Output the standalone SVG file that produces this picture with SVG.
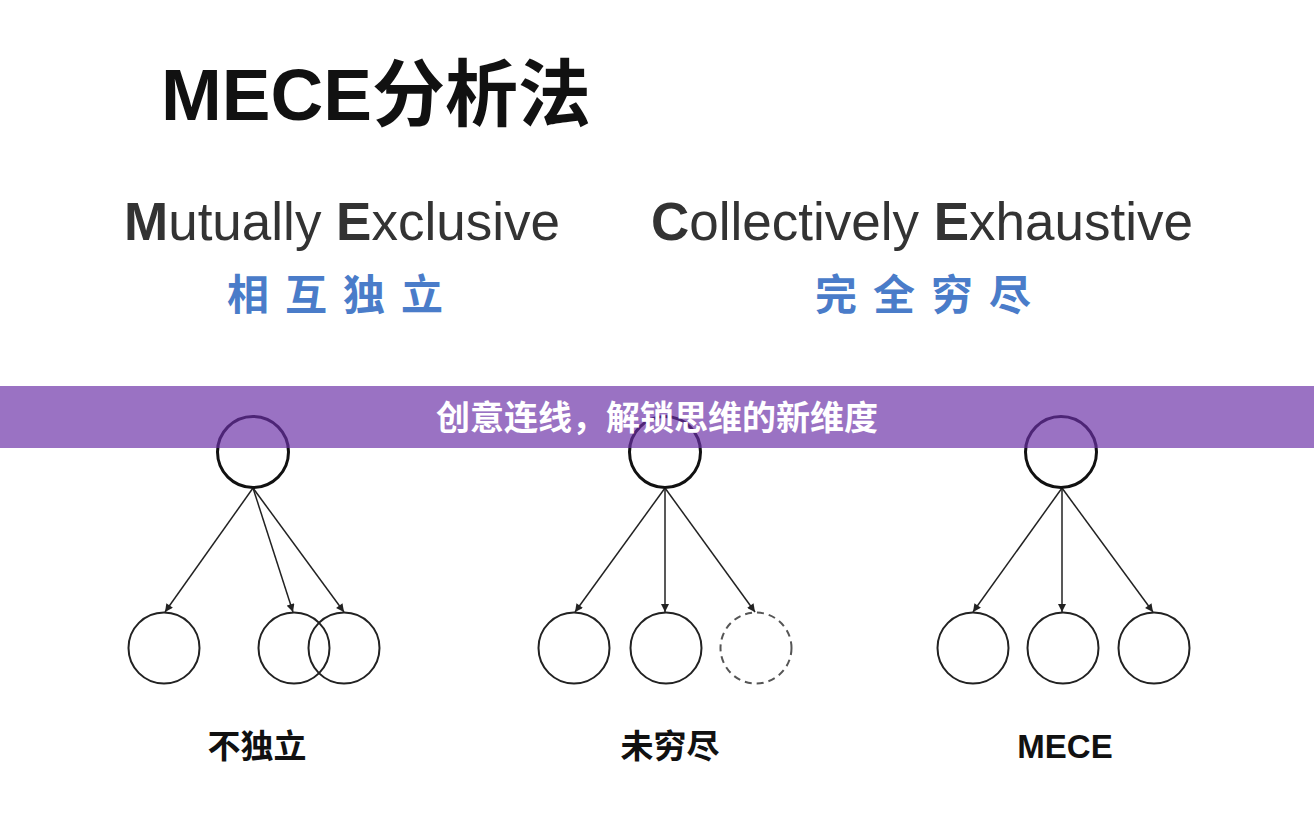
<svg xmlns="http://www.w3.org/2000/svg" width="1314" height="834" viewBox="0 0 1314 834">
<defs>
<style>
.t{font-family:"Liberation Sans","Noto Sans CJK SC",sans-serif;}
.top{fill:none;stroke:#111;stroke-width:3;}
.leaf{fill:none;stroke:#222;stroke-width:2;}
.dash{fill:none;stroke:#555;stroke-width:2;stroke-dasharray:7 5;}
.edge{stroke:#222;stroke-width:1.5;fill:none;marker-end:url(#ah);}
.lbl{font-family:"Liberation Sans","Noto Sans CJK SC",sans-serif;font-size:33px;font-weight:bold;fill:#111;text-anchor:middle;}
.en{font-family:"Liberation Sans",sans-serif;font-size:53px;fill:#333;text-anchor:middle;}
.cn{font-family:"Noto Sans CJK SC",sans-serif;font-size:42px;font-weight:bold;fill:#4a7cc9;text-anchor:middle;letter-spacing:16px;}
</style>
<marker id="ah" viewBox="0 0 10 10" refX="10" refY="5" markerWidth="9" markerHeight="8" orient="auto" markerUnits="userSpaceOnUse">
<path d="M0,0 L10,5 L0,10 z" fill="#222"/>
</marker>
</defs>
<rect width="1314" height="834" fill="#fff"/>
<g id="title">
<text class="t" x="161" y="120" font-size="73" font-weight="bold" fill="#111">MECE分析法</text>
</g>
<g id="me">
<text class="en" x="342" y="240"><tspan font-weight="bold">M</tspan>utually <tspan font-weight="bold">E</tspan>xclusive</text>
<text class="cn" x="343" y="310">相互独立</text>
</g>
<g id="ce">
<text class="en" x="922" y="240"><tspan font-weight="bold">C</tspan>ollectively <tspan font-weight="bold">E</tspan>xhaustive</text>
<text class="cn" x="931" y="310">完全穷尽</text>
</g>
<g id="connectors">
<line class="edge" x1="253" y1="488" x2="165" y2="612"/>
<line class="edge" x1="253" y1="488" x2="293" y2="612"/>
<line class="edge" x1="253" y1="488" x2="344" y2="612"/>
<line class="edge" x1="665" y1="488" x2="575" y2="612"/>
<line class="edge" x1="665" y1="488" x2="665" y2="612"/>
<line class="edge" x1="665" y1="488" x2="755" y2="612"/>
<line class="edge" x1="1062" y1="488" x2="973" y2="612"/>
<line class="edge" x1="1062" y1="488" x2="1062" y2="612"/>
<line class="edge" x1="1062" y1="488" x2="1153" y2="612"/>
</g>
<g id="node-notindependent">
<circle class="top" cx="253" cy="452" r="35.5"/>
<circle class="leaf" cx="164" cy="648" r="35.5"/>
<circle class="leaf" cx="294" cy="648" r="35.5"/>
<circle class="leaf" cx="344" cy="648" r="35.5"/>
<text class="lbl" x="257" y="758">不独立</text>
</g>
<g id="node-notexhaustive">
<circle class="top" cx="665" cy="452" r="35.5"/>
<circle class="leaf" cx="574" cy="648" r="35.5"/>
<circle class="leaf" cx="666" cy="648" r="35.5"/>
<circle class="dash" cx="756" cy="648" r="35.5"/>
<text class="lbl" x="670" y="758">未穷尽</text>
</g>
<g id="node-mece">
<circle class="top" cx="1061" cy="452" r="35.5"/>
<circle class="leaf" cx="973" cy="648" r="35.5"/>
<circle class="leaf" cx="1063" cy="648" r="35.5"/>
<circle class="leaf" cx="1154" cy="648" r="35.5"/>
<text class="lbl" x="1065" y="758">MECE</text>
</g>
<g id="banner">
<rect x="0" y="386" width="1314" height="62" fill="#6a2fa6" fill-opacity="0.68"/>
<text class="t" x="657" y="430" font-size="34" font-weight="bold" fill="#fff" text-anchor="middle">创意连线，解锁思维的新维度</text>
</g>
</svg>
